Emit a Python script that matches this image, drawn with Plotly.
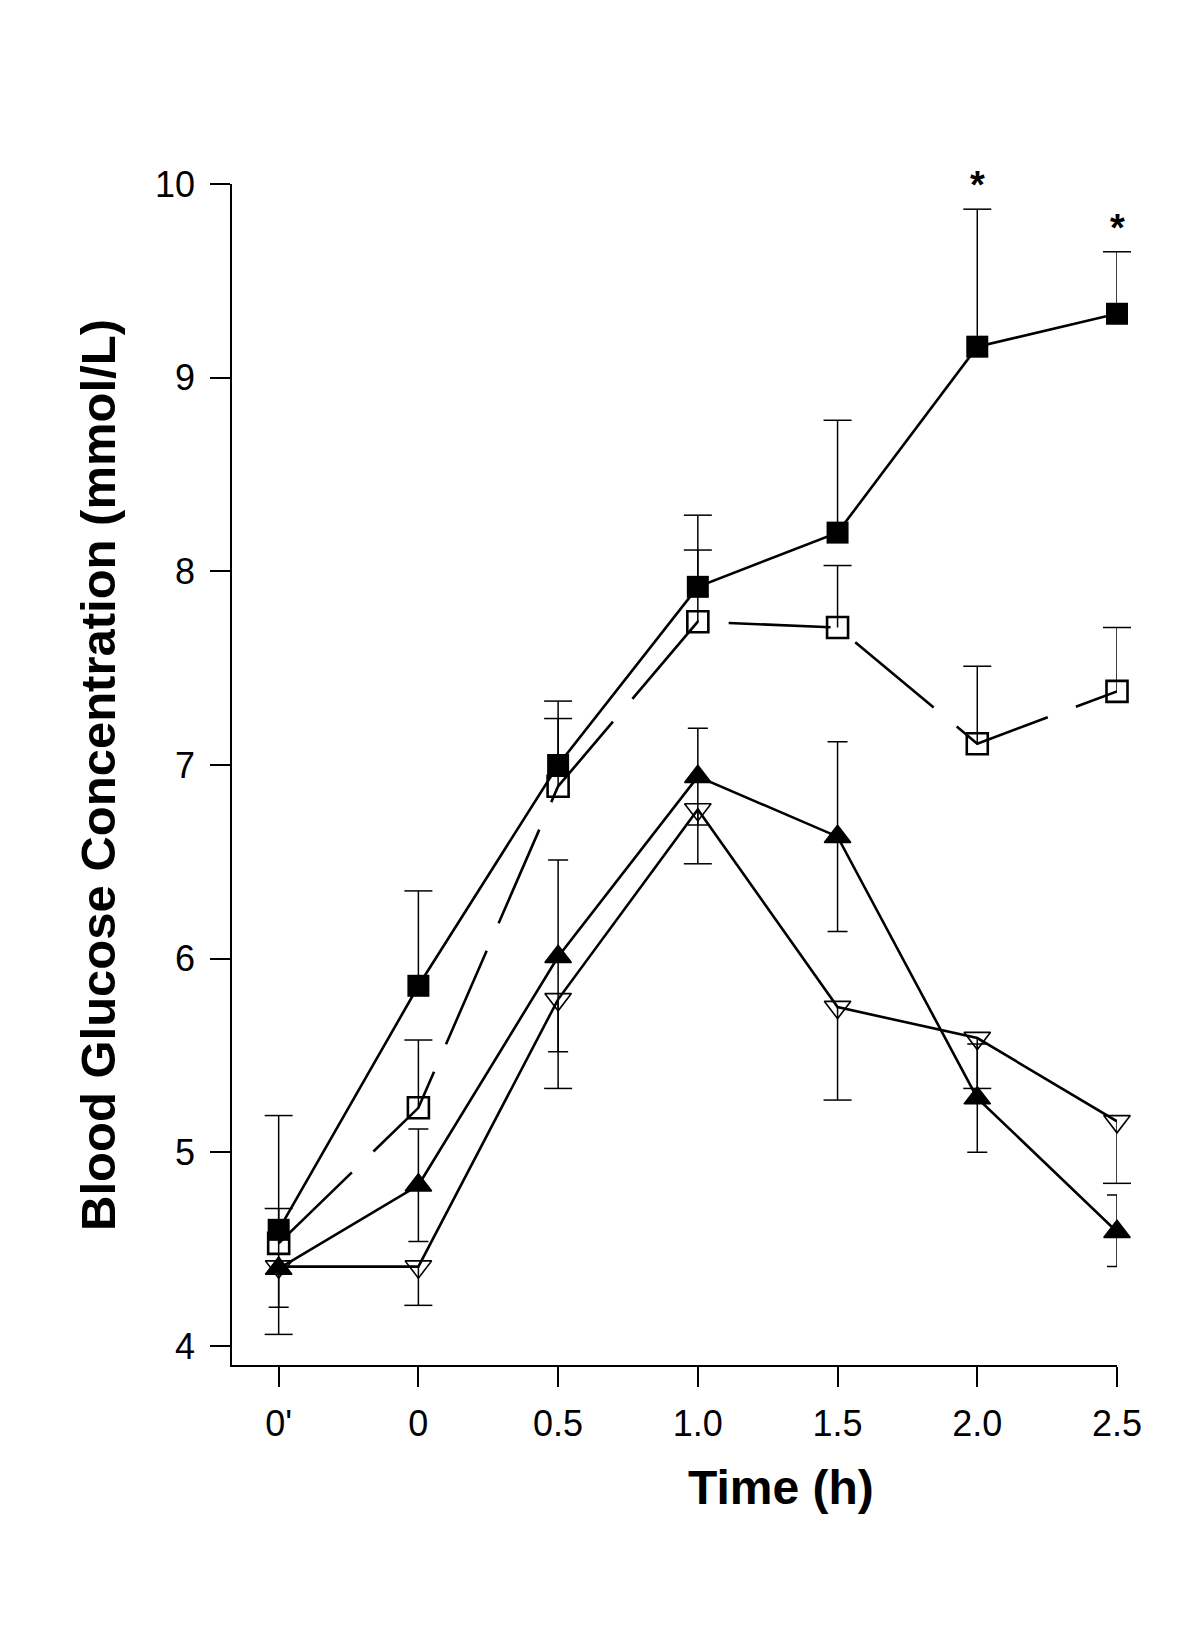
import plotly.graph_objects as go

# ---- data ----
time_labels = ["0'", "0", "0.5", "1.0", "1.5", "2.0", "2.5"]

filled_sq = [4.60, 5.86, 7.00, 7.92, 8.20, 9.16, 9.33]
filled_sq_hi = [5.19, 6.35, 7.33, 8.29, 8.78, 9.87, 9.65]

open_sq = [4.53, 5.23, 6.89, 7.74, 7.71, 7.11, 7.38]
open_sq_hi = [4.71, 5.58, 7.24, 8.11, 8.03, 7.51, 7.71]

filled_tri = [4.40, 4.83, 6.01, 6.94, 6.63, 5.28, 4.59]
filled_tri_hi = [4.60, 5.12, 6.51, 7.19, 7.12, 5.56, 4.78]
filled_tri_lo = [4.20, 4.54, 5.52, 6.69, 6.14, 5.00, 4.41]

open_tri = [4.41, 4.41, 5.79, 6.77, 5.75, 5.59, 5.16]
open_tri_lo = [4.06, 4.21, 5.33, 6.49, 5.27, 5.33, 4.84]

sig_labels = ["", "", "", "", "", "*", "*"]

y_ticks = [4, 5, 6, 7, 8, 9, 10]

FONT = "Liberation Sans, Arial, Helvetica, sans-serif"
BLACK = "black"
LW = 2.6
EW = 1.5
CAP = 20


def diff(a, b):
    return [abs(x - y) for x, y in zip(a, b)]


fig = go.Figure()

# open (down) triangles, error bars downward only
fig.add_trace(go.Scatter(
    x=time_labels, y=open_tri, mode="lines+markers",
    line=dict(color=BLACK, width=LW),
    marker=dict(symbol="triangle-down-open", size=23, color=BLACK, line=dict(width=1.6, color=BLACK)),
    error_y=dict(type="data", symmetric=False, array=[0] * len(open_tri),
                 arrayminus=diff(open_tri, open_tri_lo), color=BLACK, thickness=EW, width=0),
    cliponaxis=False, showlegend=False))
fig.add_trace(go.Scatter(
    x=time_labels, y=open_tri_lo, mode="markers",
    marker=dict(symbol="line-ew", size=CAP, color=BLACK, line=dict(width=EW, color=BLACK)),
    cliponaxis=False, showlegend=False, hoverinfo="skip"))

# filled triangles, two-sided error bars
fig.add_trace(go.Scatter(
    x=time_labels, y=filled_tri, mode="lines+markers",
    line=dict(color=BLACK, width=LW),
    marker=dict(symbol="triangle-up", size=23, color=BLACK, line=dict(width=1.5, color=BLACK)),
    error_y=dict(type="data", symmetric=False, array=diff(filled_tri_hi, filled_tri),
                 arrayminus=diff(filled_tri, filled_tri_lo), color=BLACK, thickness=EW, width=CAP / 2),
    cliponaxis=False, showlegend=False))

# open squares, dashed line, error bars upward only
fig.add_trace(go.Scatter(
    x=time_labels, y=open_sq, mode="lines+markers",
    line=dict(color=BLACK, width=LW, dash="102px,30px"),
    marker=dict(symbol="square-open", size=21, color=BLACK, line=dict(width=2.6, color=BLACK)),
    error_y=dict(type="data", symmetric=False, array=diff(open_sq_hi, open_sq),
                 arrayminus=[0] * len(open_sq), color=BLACK, thickness=EW, width=0),
    cliponaxis=False, showlegend=False))
fig.add_trace(go.Scatter(
    x=time_labels, y=open_sq_hi, mode="markers",
    marker=dict(symbol="line-ew", size=CAP, color=BLACK, line=dict(width=EW, color=BLACK)),
    cliponaxis=False, showlegend=False, hoverinfo="skip"))

# filled squares, error bars upward only
fig.add_trace(go.Scatter(
    x=time_labels, y=filled_sq, mode="lines+markers",
    line=dict(color=BLACK, width=LW),
    marker=dict(symbol="square", size=22, color=BLACK, line=dict(width=0)),
    error_y=dict(type="data", symmetric=False, array=diff(filled_sq_hi, filled_sq),
                 arrayminus=[0] * len(filled_sq), color=BLACK, thickness=EW, width=0),
    cliponaxis=False, showlegend=False))
fig.add_trace(go.Scatter(
    x=time_labels, y=filled_sq_hi, mode="markers",
    marker=dict(symbol="line-ew", size=CAP, color=BLACK, line=dict(width=EW, color=BLACK)),
    cliponaxis=False, showlegend=False, hoverinfo="skip"))

# significance asterisks above the filled-square error bars (category index on x)
for i, (lab, yv) in enumerate(zip(sig_labels, filled_sq_hi)):
    if lab:
        fig.add_annotation(x=i, y=yv, xref="x", yref="y", text=lab, showarrow=False,
                           yanchor="middle", yshift=24,
                           font=dict(family=FONT, size=38, color=BLACK, weight="bold"))

# axis titles as annotations
fig.add_annotation(x=-0.152, y=0.5, xref="paper", yref="paper",
                   text="Blood Glucose Concentration (mmol/L)", textangle=-90,
                   showarrow=False, xanchor="center", yanchor="middle",
                   font=dict(family=FONT, size=49, color=BLACK, weight="bold"))
fig.add_annotation(x=0.6205, y=-0.1041, xref="paper", yref="paper",
                   text="Time (h)", showarrow=False, xanchor="center", yanchor="middle",
                   font=dict(family=FONT, size=48, color=BLACK, weight="bold"))

fig.update_xaxes(type="category", range=[-0.334, 6.0], showline=True, linecolor=BLACK,
                 linewidth=1.6, ticks="outside", ticklen=20, tickwidth=1.5, tickcolor=BLACK,
                 showgrid=False, zeroline=False, ticklabelstandoff=6,
                 tickfont=dict(family=FONT, size=36, color=BLACK))
fig.update_yaxes(range=[3.902, 10], tickvals=y_ticks, ticktext=[str(v) for v in y_ticks],
                 showline=True, linecolor=BLACK, linewidth=1.6, ticks="outside", ticklen=20,
                 tickwidth=1.5, tickcolor=BLACK, showgrid=False, zeroline=False,
                 ticklabelstandoff=8, tickfont=dict(family=FONT, size=36, color=BLACK))

# page body has an 8px default margin, so the figure is 8px smaller and margins shifted
fig.update_layout(width=1191, height=1627, plot_bgcolor="white", paper_bgcolor="white",
                  margin=dict(l=224, r=82, t=176, b=270, autoexpand=False),
                  showlegend=False)

fig.write_html("out.html")
